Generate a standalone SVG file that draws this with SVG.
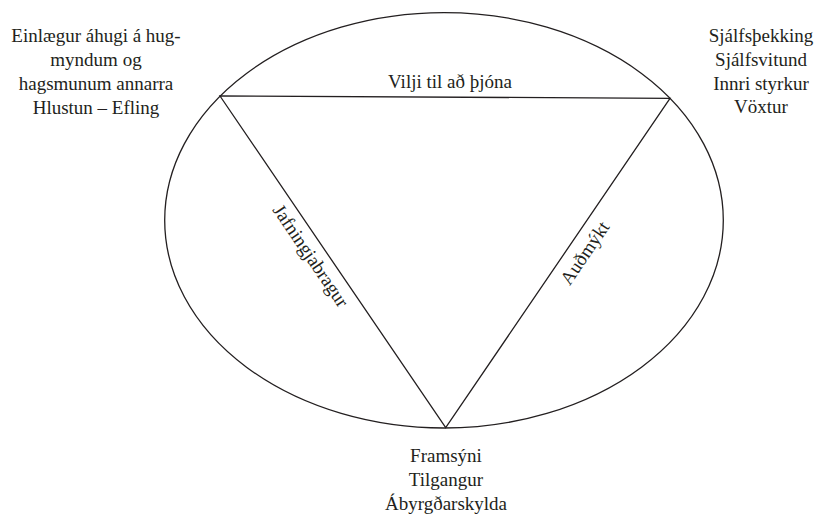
<svg xmlns="http://www.w3.org/2000/svg" width="816" height="514" viewBox="0 0 816 514">
<style>
text{font-family:'Liberation Serif','Times New Roman','DejaVu Serif',serif;font-size:19px;fill:#231f20;text-anchor:middle}
.ln{fill:none;stroke:#231f20;stroke-width:1.3}
</style>
<rect width="816" height="514" fill="#fff"/>
<g id="connectors">
<ellipse class="ln" cx="444" cy="220.3" rx="279.3" ry="207.7"/>
<path class="ln" d="M220,96 L670,98.3 L445.7,427.7 Z"/>
</g>
<g id="top-edge"><text x="450" y="88">Vilji til að þjóna</text></g>
<g id="left-edge"><text transform="translate(305.6,259.3) rotate(55.8)">Jafningjabragur</text></g>
<g id="right-edge"><text transform="translate(590,256.5) rotate(-55.75)">Auðmýkt</text></g>
<g id="left-node">
<text x="96" y="42">Einlægur áhugi á hug-</text>
<text x="96" y="66">myndum og</text>
<text x="96" y="90">hagsmunum annarra</text>
<text x="96" y="114">Hlustun – Efling</text>
</g>
<g id="right-node">
<text x="761" y="42">Sjálfsþekking</text>
<text x="761" y="66">Sjálfsvitund</text>
<text x="761" y="89.5">Innri styrkur</text>
<text x="761" y="113">Vöxtur</text>
</g>
<g id="bottom-node">
<text x="446" y="462">Framsýni</text>
<text x="446" y="486">Tilgangur</text>
<text x="446" y="510">Ábyrgðarskylda</text>
</g>
</svg>
